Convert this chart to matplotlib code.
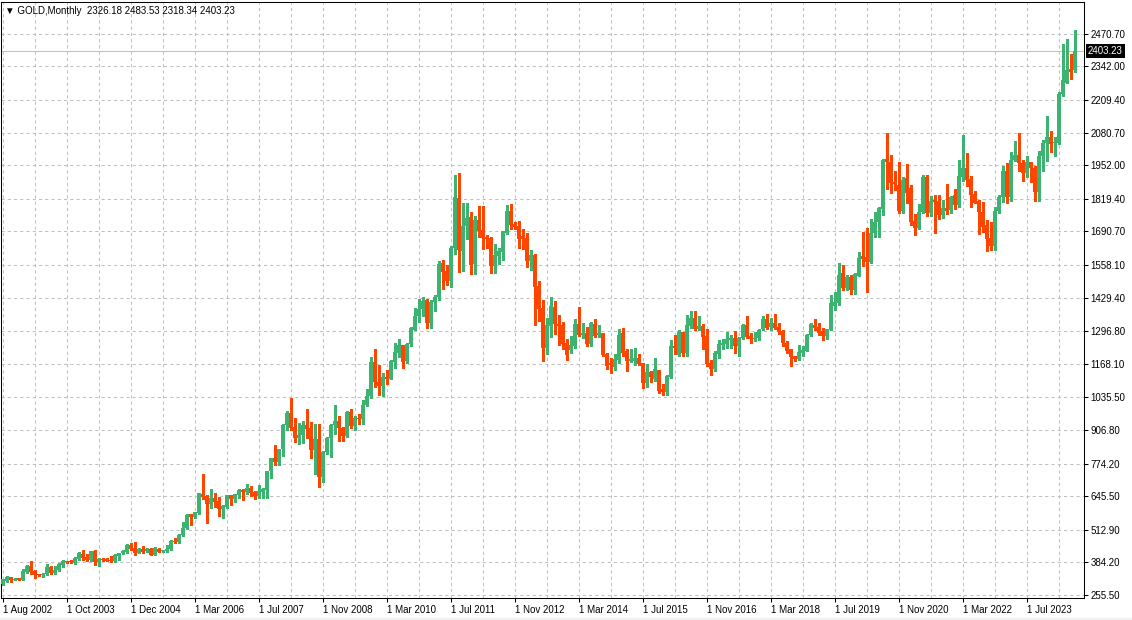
import numpy as np
import matplotlib
matplotlib.use('Agg')
import matplotlib.pyplot as plt
from matplotlib.ticker import MultipleLocator
from matplotlib.patches import Rectangle

plt.rcParams['font.family'] = ['Liberation Sans', 'DejaVu Sans']

# monthly GOLD candles, one entry per bar
opens = [299, 312, 325, 316, 323, 315, 346, 370, 352, 338,
         334, 338, 367, 344, 354, 374, 388, 388, 381, 396,
         417, 404, 394, 430, 384, 398, 398, 394, 390, 410,
         420, 427, 453, 440, 423, 437, 428, 437, 415, 437,
         428, 429, 436, 469, 466, 492, 518, 574, 562, 580,
         654, 646, 613, 638, 626, 595, 604, 650, 636, 650,
         671, 661, 678, 662, 646, 662, 670, 744, 796, 782,
         832, 927, 975, 917, 876, 887, 926, 916, 828, 870,
         722, 820, 874, 926, 942, 916, 884, 976, 924, 954,
         950, 1005, 1042, 1176, 1097, 1081, 1116, 1108, 1176, 1212,
         1242, 1179, 1247, 1301, 1357, 1383, 1420, 1328, 1413, 1430,
         1566, 1534, 1496, 1626, 1822, 1614, 1712, 1746, 1562, 1735,
         1696, 1668, 1663, 1554, 1593, 1610, 1685, 1772, 1720, 1712,
         1672, 1666, 1575, 1599, 1475, 1388, 1232, 1318, 1393, 1325,
         1322, 1250, 1222, 1240, 1325, 1282, 1288, 1245, 1325, 1283,
         1288, 1207, 1172, 1154, 1183, 1288, 1218, 1179, 1180, 1189,
         1172, 1094, 1137, 1108, 1143, 1067, 1058, 1114, 1238, 1203,
         1292, 1209, 1318, 1350, 1305, 1317, 1279, 1172, 1146, 1206,
         1242, 1246, 1262, 1268, 1238, 1268, 1321, 1278, 1264, 1268,
         1304, 1343, 1315, 1328, 1312, 1297, 1251, 1225, 1199, 1186,
         1210, 1220, 1282, 1321, 1312, 1296, 1278, 1301, 1396, 1409,
         1525, 1468, 1512, 1459, 1516, 1595, 1589, 1571, 1684, 1729,
         1777, 1976, 1963, 1887, 1874, 1772, 1900, 1860, 1731, 1705,
         1766, 1904, 1764, 1814, 1810, 1755, 1783, 1774, 1835, 1794,
         1906, 1940, 1897, 1840, 1811, 1768, 1715, 1664, 1633, 1770,
         1827, 1929, 1827, 1972, 1991, 1962, 1919, 1966, 1939, 1847,
         1987, 2039, 2064, 2039, 2041, 2232, 2278, 2331, 2326.18]

highs = [320, 332, 326, 322, 324, 357, 374, 390, 353, 340,
         344, 377, 370, 370, 380, 394, 391, 392, 404, 424,
         433, 417, 431, 432, 400, 400, 400, 410, 416, 422,
         434, 456, 462, 465, 440, 449, 440, 440, 443, 440,
         433, 452, 472, 479, 496, 542, 574, 576, 584, 660,
         733, 650, 674, 657, 642, 610, 652, 652, 656, 673,
         672, 692, 684, 664, 690, 678, 744, 796, 847, 832,
         932, 980, 1033, 954, 934, 944, 990, 938, 930, 930,
         822, 878, 930, 1005, 962, 918, 981, 990, 960, 970,
         1025, 1070, 1195, 1227, 1162, 1130, 1144, 1181, 1249, 1266,
         1242, 1250, 1315, 1387, 1424, 1432, 1423, 1418, 1440, 1575,
         1577, 1556, 1632, 1912, 1921, 1801, 1803, 1768, 1750, 1792,
         1790, 1675, 1670, 1640, 1625, 1693, 1795, 1797, 1728, 1730,
         1700, 1685, 1617, 1602, 1493, 1420, 1348, 1433, 1416, 1362,
         1331, 1265, 1278, 1345, 1392, 1330, 1312, 1332, 1345, 1322,
         1290, 1210, 1190, 1208, 1305, 1308, 1225, 1225, 1232, 1205,
         1172, 1168, 1140, 1190, 1145, 1090, 1122, 1262, 1283, 1303,
         1295, 1362, 1375, 1375, 1355, 1325, 1307, 1184, 1220, 1263,
         1265, 1295, 1280, 1296, 1275, 1326, 1357, 1290, 1295, 1305,
         1357, 1366, 1350, 1365, 1330, 1300, 1258, 1228, 1200, 1242,
         1240, 1285, 1330, 1346, 1330, 1308, 1305, 1440, 1450, 1565,
         1557, 1517, 1517, 1525, 1610, 1689, 1704, 1740, 1766, 1788,
         1977, 2077, 1992, 1930, 1965, 1905, 1955, 1875, 1758, 1797,
         1914, 1915, 1832, 1833, 1833, 1815, 1877, 1830, 1857, 1974,
         2072, 1998, 1909, 1848, 1815, 1808, 1735, 1729, 1786, 1833,
         1950, 1960, 2003, 2048, 2080, 1974, 1988, 1966, 1950, 2009,
         2052, 2146, 2088, 2063, 2240, 2430, 2450, 2389, 2483.53]

lows = [295, 308, 308, 314, 315, 313, 341, 337, 321, 330,
        328, 335, 338, 338, 350, 367, 382, 381, 376, 393,
        394, 389, 390, 374, 370, 390, 388, 386, 386, 394,
        418, 423, 433, 413, 420, 420, 424, 413, 413, 424,
        426, 426, 434, 460, 460, 488, 514, 532, 558, 575,
        636, 541, 600, 604, 567, 558, 600, 612, 624, 640,
        632, 656, 645, 635, 640, 640, 640, 718, 768, 770,
        805, 905, 905, 859, 850, 857, 875, 797, 732, 680,
        700, 810, 801, 890, 865, 865, 880, 914, 908, 930,
        932, 1000, 1032, 1075, 1045, 1042, 1087, 1107, 1152, 1193,
        1152, 1170, 1240, 1301, 1333, 1357, 1310, 1309, 1376, 1419,
        1462, 1478, 1473, 1600, 1532, 1534, 1660, 1522, 1523, 1667,
        1620, 1625, 1527, 1526, 1560, 1577, 1680, 1700, 1700, 1626,
        1620, 1550, 1540, 1320, 1336, 1180, 1205, 1272, 1286, 1243,
        1226, 1182, 1211, 1232, 1277, 1270, 1240, 1240, 1275, 1272,
        1200, 1146, 1130, 1142, 1170, 1200, 1140, 1175, 1162, 1162,
        1072, 1077, 1098, 1100, 1052, 1045, 1045, 1112, 1205, 1200,
        1200, 1200, 1310, 1300, 1300, 1225, 1160, 1123, 1140, 1192,
        1225, 1232, 1230, 1210, 1200, 1265, 1270, 1250, 1257, 1262,
        1300, 1306, 1300, 1305, 1285, 1240, 1210, 1160, 1180, 1183,
        1200, 1218, 1278, 1300, 1280, 1262, 1265, 1300, 1380, 1400,
        1460, 1458, 1445, 1445, 1515, 1555, 1451, 1565, 1668, 1670,
        1757, 1858, 1843, 1855, 1765, 1765, 1801, 1714, 1677, 1700,
        1763, 1750, 1751, 1683, 1740, 1745, 1758, 1762, 1780, 1786,
        1890, 1871, 1786, 1803, 1680, 1688, 1614, 1617, 1616, 1765,
        1805, 1804, 1810, 1970, 1930, 1890, 1905, 1885, 1810, 1811,
        1930, 1970, 2003, 1990, 2035, 2225, 2275, 2290, 2318.34]

closes = [317, 328, 315, 320, 316, 352, 370, 346, 334, 334,
          338, 365, 341, 354, 378, 391, 384, 384, 402, 420,
          400, 394, 429, 387, 398, 394, 391, 391, 413, 420,
          431, 453, 437, 423, 437, 427, 437, 415, 440, 427,
          431, 437, 469, 465, 492, 519, 571, 562, 582, 657,
          644, 613, 638, 623, 595, 608, 650, 634, 654, 670,
          663, 679, 659, 647, 666, 675, 744, 796, 782, 832,
          928, 975, 913, 876, 887, 926, 911, 828, 870, 722,
          820, 874, 926, 942, 916, 884, 976, 924, 955, 950,
          1005, 1042, 1176, 1097, 1081, 1116, 1109, 1179, 1213, 1242,
          1176, 1247, 1309, 1357, 1384, 1416, 1330, 1413, 1430, 1562,
          1532, 1496, 1625, 1826, 1617, 1712, 1742, 1558, 1735, 1693,
          1666, 1660, 1554, 1596, 1613, 1692, 1772, 1716, 1709, 1659,
          1659, 1575, 1597, 1472, 1384, 1232, 1321, 1397, 1325, 1318,
          1247, 1204, 1241, 1325, 1282, 1291, 1245, 1328, 1278, 1288,
          1203, 1159, 1163, 1187, 1282, 1209, 1180, 1187, 1192, 1167,
          1094, 1137, 1115, 1146, 1062, 1058, 1120, 1238, 1229, 1292,
          1209, 1321, 1350, 1305, 1317, 1275, 1167, 1146, 1212, 1246,
          1251, 1264, 1271, 1238, 1268, 1321, 1275, 1264, 1271, 1301,
          1343, 1308, 1328, 1310, 1295, 1251, 1220, 1196, 1186, 1216,
          1222, 1282, 1324, 1310, 1291, 1278, 1305, 1409, 1412, 1518,
          1468, 1512, 1459, 1522, 1587, 1582, 1571, 1685, 1729, 1781,
          1972, 1963, 1883, 1876, 1772, 1893, 1843, 1729, 1705, 1766,
          1904, 1764, 1810, 1808, 1755, 1781, 1772, 1827, 1794, 1910,
          1940, 1893, 1833, 1804, 1768, 1708, 1662, 1633, 1770, 1827,
          1929, 1827, 1972, 1991, 1962, 1919, 1966, 1939, 1847, 1987,
          2039, 2064, 2035, 2045, 2232, 2287, 2327, 2321, 2403.23]

date_labels = ['1 Aug 2002', '1 Oct 2003', '1 Dec 2004', '1 Mar 2006', '1 Jul 2007',
               '1 Nov 2008', '1 Mar 2010', '1 Jul 2011', '1 Nov 2012', '1 Mar 2014',
               '1 Jul 2015', '1 Nov 2016', '1 Mar 2018', '1 Jul 2019', '1 Nov 2020',
               '1 Mar 2022', '1 Jul 2023']
price_ticks = [255.50, 384.20, 512.90, 645.50, 774.20, 906.80, 1035.50, 1168.10,
               1296.80, 1429.40, 1558.10, 1690.70, 1819.40, 1952.00, 2080.70,
               2209.40, 2342.00, 2470.70]
header = '\u25bc GOLD,Monthly  2326.18 2483.53 2318.34 2403.23'
last_price = 2403.23

W, H = 1132, 620
fig = plt.figure(figsize=(W / 100, H / 100), dpi=100)
fig.patch.set_facecolor('white')
ax = fig.add_axes([1 / W, 22 / H, 1083 / W, 596 / H])

o = np.array(opens, dtype=float)
h = np.array(highs, dtype=float)
l = np.array(lows, dtype=float)
c = np.array(closes, dtype=float)
x = np.arange(len(c))
up = c >= o
cols = np.where(up, '#3cb371', '#ff4500')

ax.vlines(x, l, h, colors=cols, lw=0.75, antialiased=False, zorder=3)
body_lo = np.minimum(o, c)
body_h = np.maximum(np.abs(c - o), 4.0)  # at least one pixel tall
ax.bar(x, body_h, bottom=body_lo, width=0.62, color=cols, lw=0,
       antialiased=False, zorder=4)

ax.axhline(last_price, color='#c0c0c0', lw=0.75, zorder=2)

ax.set_xlim(-0.425, 270.33)
ax.set_ylim(243.66, 2595.8)

# axes / ticks
ax.yaxis.tick_right()
ax.set_yticks(price_ticks)
ax.set_yticklabels(['%.2f' % v for v in price_ticks])
ax.set_xticks(np.arange(len(date_labels)) * 16)
ax.set_xticklabels(date_labels, ha='left')
ax.xaxis.set_minor_locator(MultipleLocator(8))
ax.tick_params(axis='both', which='major', length=3, width=0.75, labelsize=7,
               colors='black', pad=1.5)
ax.tick_params(axis='x', which='minor', length=0)
ax.tick_params(axis='x', which='major', pad=2)

grid_kw = dict(color='#c0c0c0', lw=0.75, linestyle=(0, (3, 3)))
ax.grid(True, which='both', axis='x', **grid_kw)
ax.grid(True, which='major', axis='y', **grid_kw)
ax.set_axisbelow(True)

for s in ax.spines.values():
    s.set_color('black')
    s.set_linewidth(0.75)

# current price tag on the right scale
ax.text(1 + 4 / 1083, last_price, '%.2f' % last_price, transform=ax.get_yaxis_transform(),
        ha='left', va='center', color='white', fontsize=7, clip_on=False, zorder=10,
        bbox=dict(boxstyle='square,pad=0.2', fc='black', ec='none'))

fig.text(5 / W, 1 - 11 / H, header, ha='left', va='center', fontsize=7, color='black')

fig.patches.append(Rectangle((0, 0), 1, 2 / H, transform=fig.transFigure,
                             color='#f0f0f0', zorder=0))

fig.savefig('out.png', dpi=100)
